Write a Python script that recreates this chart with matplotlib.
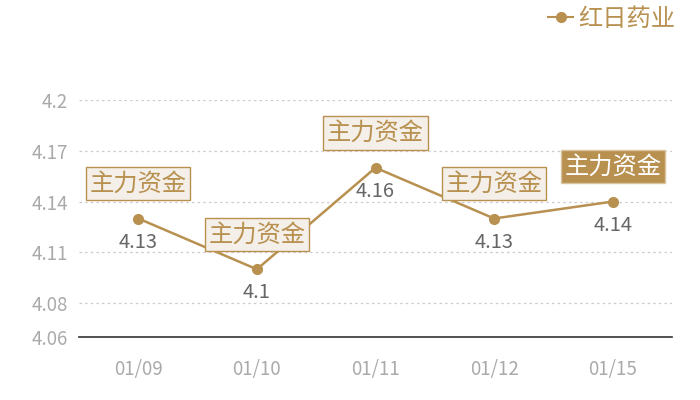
import matplotlib
matplotlib.use("Agg")
import matplotlib.pyplot as plt
from matplotlib.lines import Line2D

plt.rcParams['font.family'] = ['Noto Sans CJK SC', 'DejaVu Sans']

dates = ["01/09", "01/10", "01/11", "01/12", "01/15"]
values = [4.13, 4.10, 4.16, 4.13, 4.14]
tag_text = ["主力资金", "主力资金", "主力资金", "主力资金", "主力资金"]
yticks = [4.06, 4.08, 4.11, 4.14, 4.17, 4.2]
series_name = "红日药业"

GOLD = "#b8904f"
BOXFILL = "#f4efe8"

fig = plt.figure(figsize=(7, 4), dpi=100)
ax = fig.add_axes([79/700, 1 - 337/400, (672 - 79)/700, (337 - 100)/400])

x = list(range(len(dates)))
ax.plot(x, values, color=GOLD, lw=1.8, marker="o", ms=7, zorder=3)

ax.set_xlim(-0.5, len(dates) - 0.5)
ax.set_ylim(yticks[0], yticks[-1])
ax.set_yticks(yticks)
ax.set_yticklabels([f"{t:g}" for t in yticks])
ax.set_xticks(x)
ax.set_xticklabels(dates)
ax.tick_params(axis='y', length=0, pad=8, labelsize=13.5, labelcolor="#aaaaaa")
ax.tick_params(axis='x', length=0, pad=16, labelsize=13.5, labelcolor="#aaaaaa")
for s in ["top", "right", "left"]:
    ax.spines[s].set_visible(False)
ax.spines["bottom"].set_color("#333333")
ax.spines["bottom"].set_linewidth(1.2)
for t in yticks[1:]:
    ax.axhline(t, color="#cccccc", lw=0.9, ls=(0, (2, 2.5)), zorder=0)

for i, (xi, v) in enumerate(zip(x, values)):
    ax.annotate(f"{v:g}", (xi, v), xytext=(0, -17), textcoords="offset points",
                ha="center", va="center", fontsize=14.5, color="#666666", zorder=4)
    last = i == len(values) - 1
    ax.annotate(tag_text[i], (xi, v), xytext=(0, 25), textcoords="offset points",
                ha="center", va="center", fontsize=17.5,
                color="white" if last else GOLD, zorder=5, annotation_clip=False,
                bbox=dict(boxstyle="square,pad=0.15",
                          fc=GOLD if last else BOXFILL,
                          ec="#d9c4a0" if last else GOLD, lw=1.0))

# legend
fig.add_artist(Line2D([548/700, 573/700], [1 - 17/400, 1 - 17/400], color=GOLD, lw=1.5,
                      transform=fig.transFigure))
fig.add_artist(Line2D([560.5/700], [1 - 17/400], color=GOLD, marker="o", ms=7,
                      transform=fig.transFigure))
fig.text(578/700, 1 - 19/400, series_name, fontsize=17.5, color=GOLD, ha="left", va="center")

fig.savefig("out.png", dpi=100, facecolor="white")
